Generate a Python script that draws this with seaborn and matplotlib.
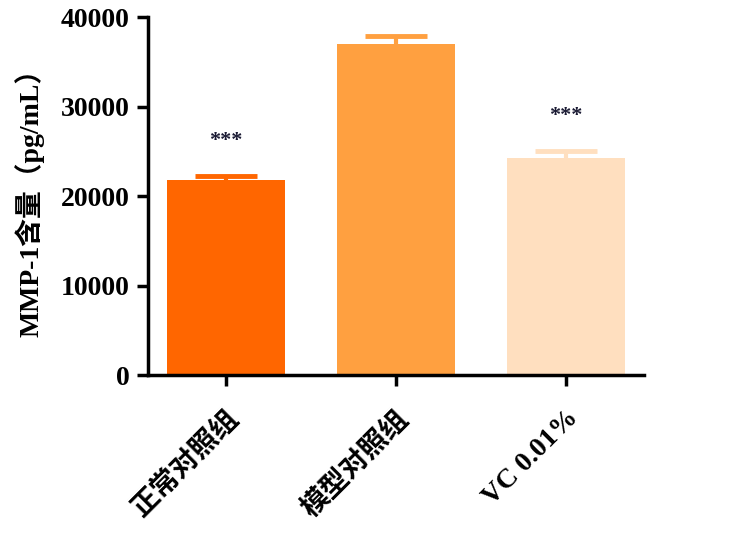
import matplotlib
matplotlib.use('Agg')
import matplotlib.pyplot as plt
import seaborn as sns
import pandas as pd

groups = ['正常对照组', '模型对照组', 'VC 0.01%']
means = [21800, 37000, 24300]
errors = [450, 850, 750]
stars = ['***', '', '***']
colors = ['#FF6600', '#FFA040', '#FFDFBF']
yticks = [0, 10000, 20000, 30000, 40000]

df = pd.DataFrame({'group': groups, 'value': means})

sns.set_theme(style='ticks')
plt.rcParams['font.family'] = ['Liberation Serif', 'Noto Sans CJK SC', 'DejaVu Sans']
plt.rcParams['font.weight'] = 'bold'
plt.rcParams['text.color'] = 'black'
plt.rcParams['axes.labelcolor'] = 'black'
plt.rcParams['xtick.color'] = 'black'
plt.rcParams['ytick.color'] = 'black'

fig = plt.figure(figsize=(7.5, 5.54), dpi=100)
ax = fig.add_axes([0.197, 0.323, 0.662, 0.646])

sns.barplot(data=df, x='group', y='value', hue='group', order=groups,
            palette=colors, width=0.69, legend=False, ax=ax, saturation=1,
            errorbar=None, linewidth=0, zorder=2)

# symmetric error bars drawn behind the bars, so only the upper half shows
for i, (m, e, c) in enumerate(zip(means, errors, colors)):
    ax.errorbar(i, m, yerr=e, fmt='none', ecolor=c,
                elinewidth=3, capsize=22, capthick=3.5, zorder=1)
    if stars[i]:
        ax.text(i, m + e + 3900, stars[i], ha='center', va='center',
                fontsize=16, color='#1a1a33', fontweight='bold')

ax.set_ylim(0, 40000)
ax.set_xlim(-0.46, 2.46)
ax.set_yticks(yticks)
ax.set_yticklabels([str(t) for t in yticks], fontsize=20, fontweight='bold')
ax.set_xticks(range(len(groups)))
ax.set_xticklabels(groups, rotation=45, ha='right', rotation_mode='anchor',
                   fontsize=20, fontweight='bold')
ax.tick_params(axis='x', pad=14)
ax.set_xlabel('')
ax.set_ylabel('MMP-1含量（pg/mL）', fontsize=20, fontweight='bold', labelpad=12)

sns.despine(ax=ax)
for s in ['left', 'bottom']:
    ax.spines[s].set_linewidth(2.5)
    ax.spines[s].set_color('black')
ax.tick_params(axis='both', length=8, width=2.5, color='black')
ax.tick_params(axis='y', pad=5)

fig.savefig('out.png', dpi=100)
